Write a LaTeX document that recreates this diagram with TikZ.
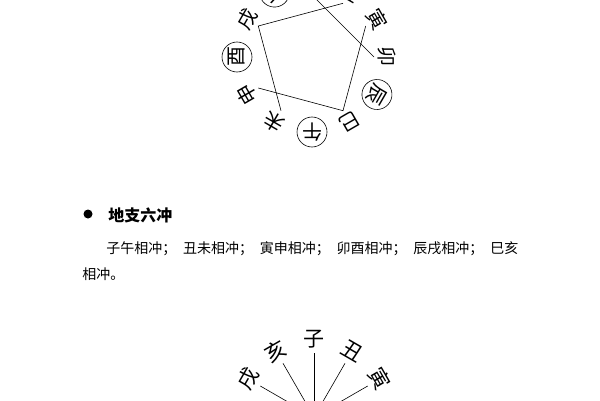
\documentclass[tikz,border=0pt]{standalone}
\usepackage{fontspec}
\newfontfamily\cjk{Noto Sans CJK SC}
\tikzset{
  zhi/.style={font=\cjk\fontsize{20}{20}\selectfont, inner sep=0pt},
  xing/.style={zhi, draw, circle, minimum size=30pt},
  wen/.style={font=\cjk\fontsize{14}{14}\selectfont, anchor=west, inner sep=0pt},
}
\begin{document}
\begin{tikzpicture}[x=1pt, y=1pt, line width=0.6pt]
\useasboundingbox (0,0) rectangle (600,400);
% upper circle
\begin{scope}[shift={(312,343)}]
  \node[xing, rotate=30]   (hai)  at (120:75)  {亥};
  \node[zhi,  rotate=-30]  (chou) at (60:75)   {丑};
  \node[zhi,  rotate=-60]  (yin)  at (30:75)   {寅};
  \node[zhi,  rotate=-90]  (mao)  at (0:75)    {卯};
  \node[xing, rotate=-120] (chen) at (-30:75)  {辰};
  \node[zhi,  rotate=-150] (si)   at (-60:75)  {巳};
  \node[xing, rotate=180]  (wu)   at (-90:75)  {午};
  \node[zhi,  rotate=150]  (wei)  at (-120:75) {未};
  \node[zhi,  rotate=120]  (shen) at (-150:75) {申};
  \node[xing, rotate=90]   (you)  at (180:75)  {酉};
  \node[zhi,  rotate=60]   (xu)   at (150:75)  {戌};
  \coordinate (zi-e)   at (90:62);
  \coordinate (chou-e) at (60:62);
  \coordinate (yin-e)  at (30:62);
  \coordinate (mao-e)  at (0:62);
  \coordinate (si-e)   at (-60:62);
  \coordinate (wei-e)  at (-120:62);
  \coordinate (shen-e) at (-150:62);
  \coordinate (xu-e)   at (150:62);
  \draw (chou-e) -- (xu-e) -- (wei-e);
  \draw (yin-e) -- (si-e) -- (shen-e);
  \draw (mao-e) -- (zi-e);
\end{scope}
% text
\fill (88,186) circle (4.5);
\node[wen, font=\cjk\bfseries\fontsize{16}{16}\selectfont] (title) at (108,185) {地支六冲};
\node[wen] (line1) at (106,151) {\makebox[412pt][l]{子午相冲；\hfill 丑未相冲；\hfill 寅申相冲；\hfill 卯酉相冲；\hfill 辰戌相冲；\hfill 巳亥}};
\node[wen] (line2) at (82,126) {相冲。};
% lower fan
\begin{scope}[shift={(314,-17)}, zhi/.append style={font=\cjk\fontsize{21}{21}\selectfont}]
  \coordinate (hub) at (0,0);
  \node[zhi, rotate=60]  (xu2)   at (150:76) {戌};
  \node[zhi, rotate=30]  (hai2)  at (120:76) {亥};
  \node[zhi]             (zi2)   at (90:78)  {子};
  \node[zhi, rotate=-30] (chou2) at (60:76)  {丑};
  \node[zhi, rotate=-60] (yin2)  at (30:76)  {寅};
  \draw (150:62) coordinate (xu2-e)   -- (hub);
  \draw (120:62) coordinate (hai2-e)  -- (hub);
  \draw (90:64)  coordinate (zi2-e)   -- (hub);
  \draw (60:62)  coordinate (chou2-e) -- (hub);
  \draw (30:62)  coordinate (yin2-e)  -- (hub);
\end{scope}
\end{tikzpicture}
\end{document}
